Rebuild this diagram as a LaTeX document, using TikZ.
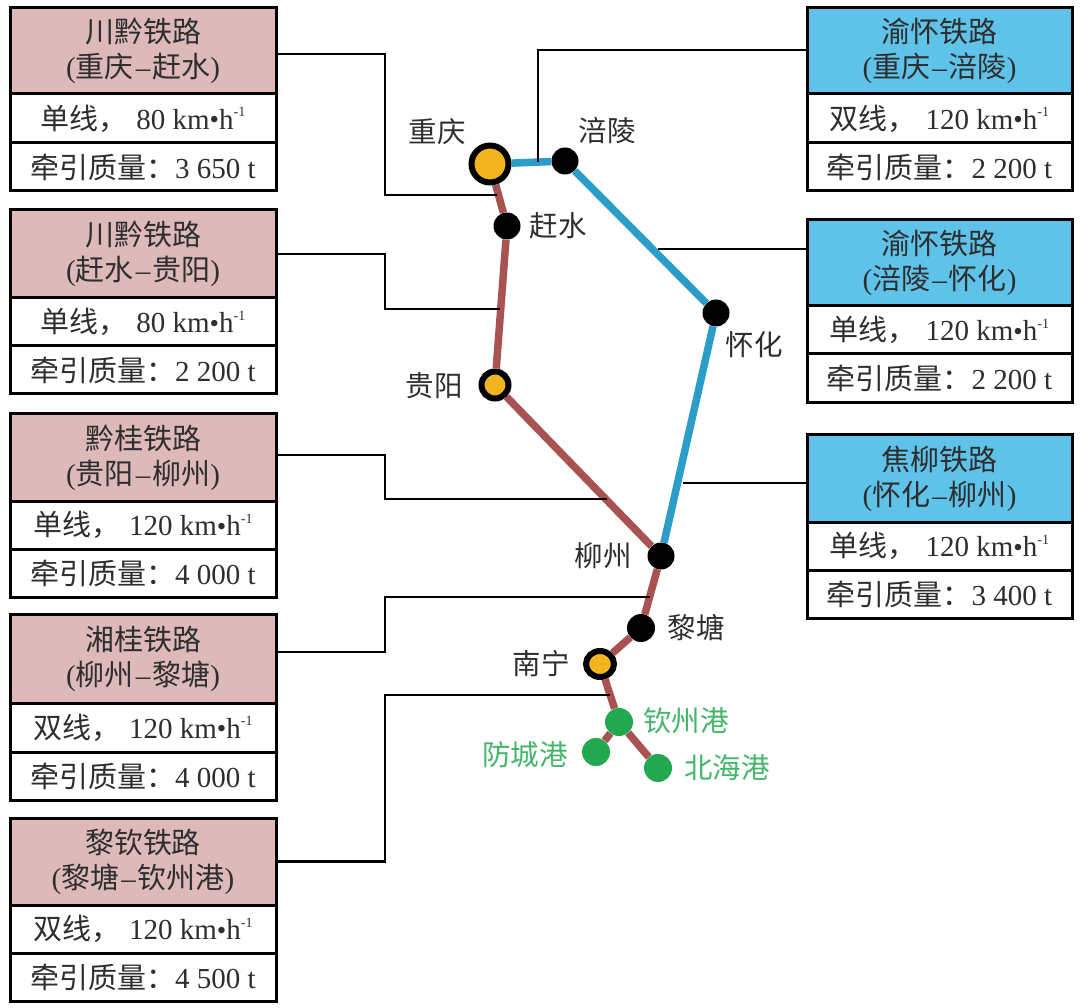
\documentclass[tikz,border=0pt]{standalone}
\usepackage{fontspec}
\setmainfont{Liberation Serif}
\newfontfamily\cjk{Noto Sans CJK SC}
\usetikzlibrary{calc,shapes.geometric}
\definecolor{pinkhead}{HTML}{DDB9B9}
\definecolor{bluehead}{HTML}{5FC2E8}
\definecolor{brownrail}{HTML}{A85352}
\definecolor{bluerail}{HTML}{2A9DC9}
\definecolor{hubyellow}{HTML}{F2B51F}
\definecolor{portgreen}{HTML}{22A950}
\definecolor{inkgray}{HTML}{2E2E2E}
\tikzset{
	cell/.style={draw=black, line width=3pt, inner sep=0pt, text=inkgray, align=center, minimum width=#1, font=\fontsize{29}{35.5}\selectfont},
	feed/.style={line width=2.7pt, black},
	brown/.style={line width=7.5pt, brownrail},
	blue/.style={line width=7.5pt, bluerail},
	stop/.style={circle, fill=black, inner sep=0pt, minimum size=27pt},
	hub/.style={circle, draw=black, fill=hubyellow, line width=6pt, inner sep=0pt, minimum size=#1},
	port/.style={circle, fill=portgreen, inner sep=0pt, minimum size=28pt},
	place/.style={text=inkgray, inner sep=0pt, font=\cjk\fontsize{28.5}{30}\selectfont},
	portname/.style={text=portgreen!85!white, inner sep=0pt, font=\cjk\fontsize{28.5}{30}\selectfont}
}
% name, center x, width, head color, the four y values, line name, section, speed row, mass
\def\railbox(#1)(#2:#3:#4)(#5:#6:#7:#8)#9{%
	\node[cell=#3pt, fill=#4, minimum height={(#6-#5)*1pt}] (#1h) at ({#2},{(#5+#6)/2}) {#9};
	\node[cell=#3pt, fill=white, minimum height={(#7-#6)*1pt}] (#1s) at ({#2},{(#6+#7)/2}) {\speedrow};
	\node[cell=#3pt, fill=white, minimum height={(#8-#7)*1pt}] (#1m) at ({#2},{(#7+#8)/2}) {\massrow};
}
\def\low#1{\raisebox{-1.5pt}{#1}}
\def\head#1#2#3{\raisebox{-3.5pt}{\cjk #1}\\\raisebox{-3pt}{({\cjk #2}\hspace{2pt}–\hspace{2pt}{\cjk #3})}}
\def\setrows#1#2#3#4{%
	\def\speedrow{\raisebox{-2.5pt}{{\cjk #1，}\hspace{0.3em}#2 km\raisebox{0.02em}{\fontsize{27}{27}\selectfont\textbullet}h\raisebox{0.42em}{\fontsize{14}{14}\selectfont -1}}}%
	\def\massrow{\low{{\cjk 牵引质量：}#3 #4 t}}%
}
\begin{document}
\begin{tikzpicture}[x=1pt, y=-1pt]
	\useasboundingbox (0, 0) rectangle (1080, 1008);
	%%%%% START %%%%%

	\setrows{单线}{80}{3}{650}
	\railbox(cqgs)(143:266:pinkhead)(8:94:143:191){\head{川黔铁路}{重庆}{赶水}}
	\setrows{单线}{80}{2}{200}
	\railbox(gsgy)(143:266:pinkhead)(210:298:346:394){\head{川黔铁路}{赶水}{贵阳}}
	\setrows{单线}{120}{4}{000}
	\railbox(gylz)(143:266:pinkhead)(414:501:549:597){\head{黔桂铁路}{贵阳}{柳州}}
	\setrows{双线}{120}{4}{000}
	\railbox(lzlt)(143:266:pinkhead)(614:703:752:800){\head{湘桂铁路}{柳州}{黎塘}}
	\setrows{双线}{120}{4}{500}
	\railbox(ltqz)(143:266:pinkhead)(818:905:953:1001){\head{黎钦铁路}{黎塘}{钦州港}}

	\setrows{双线}{120}{2}{200}
	\railbox(cqfl)(939.5:265:bluehead)(8:94:143:191){\head{渝怀铁路}{重庆}{涪陵}}
	\setrows{单线}{120}{2}{200}
	\railbox(flhh)(939.5:265:bluehead)(220:306:354:403){\head{渝怀铁路}{涪陵}{怀化}}
	\setrows{单线}{120}{3}{400}
	\railbox(hhlz)(939.5:265:bluehead)(435:522:570:618){\head{焦柳铁路}{怀化}{柳州}}

	\node[hub=37pt] (chongqing) at (490, 164) {};
	\node[stop] (fuling) at (565, 161) {};
	\node[stop] (ganshui) at (507, 226) {};
	\node[hub=27pt] (guiyang) at (495, 385) {};
	\node[stop] (huaihua) at (716, 313) {};
	\node[stop] (liuzhou) at (661, 556) {};
	\node[stop, minimum size=28pt] (litang) at (641, 628) {};
	\node[hub=1pt, ellipse, minimum width=28pt, minimum height=26pt] (nanning) at (600, 664) {};
	\node[port] (qinzhou) at (619, 722) {};
	\node[port] (fangcheng) at (596, 752) {};
	\node[port] (beihai) at (658, 768) {};

	\node[place] (chongqingname) at (437, 132) {重庆};
	\node[place] (fulingname) at (607, 131) {涪陵};
	\node[place] (ganshuiname) at (558, 226) {赶水};
	\node[place] (guiyangname) at (434, 386) {贵阳};
	\node[place] (huaihuaname) at (754, 345) {怀化};
	\node[place] (liuzhouname) at (603, 556) {柳州};
	\node[place] (litangname) at (696, 628) {黎塘};
	\node[place] (nanningname) at (541, 664) {南宁};
	\node[portname] (qinzhouname) at (686, 721) {钦州港};
	\node[portname] (fangchengname) at (525, 755) {防城港};
	\node[portname] (beihainame) at (727, 768) {北海港};

	\draw[brown] (chongqing) -- (ganshui);
	\draw[brown] (ganshui) -- (guiyang);
	\draw[brown] (guiyang) -- (liuzhou);
	\draw[brown] (liuzhou) -- (litang);
	\draw[brown] (litang) -- (nanning);
	\draw[brown] (nanning) -- (qinzhou);
	\draw[brown] (qinzhou) -- (fangcheng);
	\draw[brown] (qinzhou) -- (beihai);
	\draw[blue] (chongqing) -- (fuling);
	\draw[blue] (fuling) -- (huaihua);
	\draw[blue] (huaihua) -- (liuzhou);

	\coordinate (bend1) at (385, 195);
	\coordinate (end1) at (497, 195);
	\coordinate (bend2) at (385, 309);
	\coordinate (end2) at (500, 309);
	\coordinate (bend3) at (385, 499);
	\coordinate (end3) at (607, 499);
	\coordinate (bend4) at (385, 597);
	\coordinate (end4) at (650, 597);
	\coordinate (bend5) at (385, 695);
	\coordinate (end5) at (610, 695);
	\coordinate (bend6) at (538, 50);
	\coordinate (end6) at (538, 162);
	\coordinate (end7) at (658, 249);
	\coordinate (end8) at (683, 483);

	\draw[feed] ([yshift=-3pt]cqgsh.east) -| (bend1) -- (end1);
	\draw[feed] (gsgyh.east) -| (bend2) -- (end2);
	\draw[feed] ([yshift=2.5pt]gylzh.east) -| (bend3) -- (end3);
	\draw[feed] ([yshift=6.5pt]lzlth.east) -| (bend4) -- (end4);
	\draw[feed] (ltqzh.east) -| (bend5) -- (end5);
	\draw[feed] ([yshift=1pt]cqflh.west) -- (bend6) -- (end6);
	\draw[feed] ([yshift=14pt]flhhh.west) -- (end7);
	\draw[feed] ([yshift=-4.5pt]hhlzh.west) -- (end8);

	%%%%% END %%%%%
\end{tikzpicture}
\end{document}
